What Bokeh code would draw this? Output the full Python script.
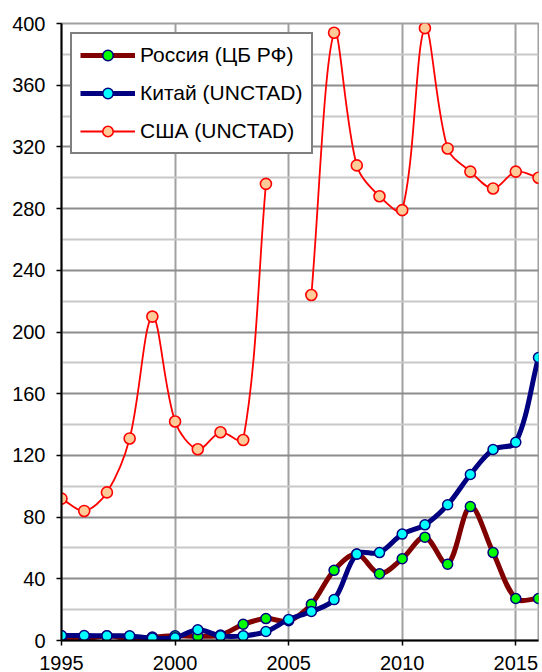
import math
from bokeh.plotting import figure
from bokeh.models import Range1d, Legend, LegendItem, FixedTicker, ColumnDataSource
from bokeh.embed import file_html
from bokeh.resources import INLINE

years = list(range(1995, 2017))
russia = [0.6, 1.0, 3.0, 1.3, 2.2, 3.0, 2.8, 3.5, 10.5, 14.2, 12.8, 23.5,
          45.5, 56.0, 43.3, 53.0, 67.0, 49.5, 86.8, 57.0, 27.2, 27.2]
china = [3.2, 3.2, 3.0, 3.0, 1.6, 1.8, 7.0, 3.0, 3.0, 5.8, 13.6, 18.8,
         26.5, 56.0, 57.0, 69.0, 75.0, 88.0, 107.6, 123.8, 128.5, 183.5]
usa = [92, 84, 96, 131, 210, 142, 124, 135, 130, 296, None, 224,
       394, 308, 288, 279, 397, 319, 304, 293, 304, 300]

series_names = ["Россия (ЦБ РФ)", "Китай (UNCTAD)", "США (UNCTAD)"]
y_ticks = list(range(0, 401, 40))
y_minor = list(range(20, 400, 40))
x_ticks = [1995, 2000, 2005, 2010, 2015]

FONT = "Liberation Sans"

W, H = 539, 672
BL, BR, BT, BB = 61, 1, 23, 32
X0, X1, Y0, Y1 = 1995, 2016, 0, 400
SX = (W - BL - BR) / (X1 - X0)
SY = (H - BT - BB) / (Y1 - Y0)


def bezier_source(xs, ys):
    runs, cur = [], []
    for x, y in zip(xs, ys):
        if y is None:
            if cur:
                runs.append(cur)
            cur = []
        else:
            cur.append((x, y))
    if cur:
        runs.append(cur)

    def dist(a, b):
        return math.hypot((a[0] - b[0]) * SX, (a[1] - b[1]) * SY)

    d = dict(x0=[], y0=[], x1=[], y1=[], cx0=[], cy0=[], cx1=[], cy1=[])
    for run in runs:
        n = len(run)
        for i in range(n - 1):
            p0 = run[i - 1] if i > 0 else run[i]
            p1 = run[i]
            p2 = run[i + 1]
            p3 = run[i + 2] if i + 2 < n else run[i + 1]
            d01, d12, d23 = dist(p0, p1), dist(p1, p2), dist(p2, p3)
            f1 = d12 / (d01 + d12) / 3.0 if (d01 + d12) > 0 else 0
            f2 = d12 / (d12 + d23) / 3.0 if (d12 + d23) > 0 else 0
            d["x0"].append(p1[0]); d["y0"].append(p1[1])
            d["x1"].append(p2[0]); d["y1"].append(p2[1])
            d["cx0"].append(p1[0] + (p2[0] - p0[0]) * f1)
            d["cy0"].append(p1[1] + (p2[1] - p0[1]) * f1)
            d["cx1"].append(p2[0] - (p3[0] - p1[0]) * f2)
            d["cy1"].append(p2[1] - (p3[1] - p1[1]) * f2)
    return ColumnDataSource(d)


p = figure(width=W, height=H, output_backend="svg", toolbar_location=None,
           x_range=Range1d(X0, X1), y_range=Range1d(Y0, Y1),
           min_border_left=BL, min_border_right=BR, min_border_top=BT,
           min_border_bottom=BB)
p.background_fill_color = "white"
p.border_fill_color = "white"
p.outline_line_color = "#a0a0a0"
p.outline_line_width = 2

# grids
p.ygrid.ticker = FixedTicker(ticks=y_ticks, minor_ticks=y_minor)
p.ygrid.grid_line_color = "#8c8c8c"
p.ygrid.grid_line_width = 2
p.ygrid.minor_grid_line_color = "#c8c8c8"
p.ygrid.minor_grid_line_width = 2
p.xgrid.ticker = FixedTicker(ticks=x_ticks)
p.xgrid.grid_line_color = "#a0a0a0"
p.xgrid.grid_line_width = 2

# axes
p.yaxis.ticker = FixedTicker(ticks=y_ticks)
p.xaxis.ticker = FixedTicker(ticks=x_ticks)
for ax in (p.xaxis[0], p.yaxis[0]):
    ax.axis_line_color = "black"
    ax.axis_line_width = 2
    ax.major_tick_line_color = "black"
    ax.major_tick_line_width = 1.5
    ax.major_tick_out = 5
    ax.major_tick_in = 0
    ax.minor_tick_line_color = None
    ax.major_label_text_font = FONT
    ax.major_label_text_font_size = "20px"
    ax.major_label_text_color = "black"
p.yaxis.major_label_standoff = 11
p.xaxis.major_label_standoff = 10

# USA
p.bezier(x0="x0", y0="y0", x1="x1", y1="y1", cx0="cx0", cy0="cy0",
         cx1="cx1", cy1="cy1", source=bezier_source(years, usa),
         line_color="#ff0000", line_width=1.8)
usa_pts = [(x, y) for x, y in zip(years, usa) if y is not None]
r_usa_pts = p.scatter([a for a, b in usa_pts], [b for a, b in usa_pts], size=11,
                      fill_color="#ffcc99", line_color="#ff0000", line_width=1.6)

# Russia
p.bezier(x0="x0", y0="y0", x1="x1", y1="y1", cx0="cx0", cy0="cy0",
         cx1="cx1", cy1="cy1", source=bezier_source(years, russia),
         line_color="#800000", line_width=5, line_cap="round")
r_ru_pts = p.scatter(years, russia, size=10, fill_color="#00ff00",
                     line_color="#000080", line_width=1.5)

# China
p.bezier(x0="x0", y0="y0", x1="x1", y1="y1", cx0="cx0", cy0="cy0",
         cx1="cx1", cy1="cy1", source=bezier_source(years, china),
         line_color="#000080", line_width=5, line_cap="round")
r_cn_pts = p.scatter(years, china, size=10, fill_color="#00ffff",
                     line_color="#000080", line_width=1.5)

# legend proxies
nan = float("nan")
l_ru = p.line([nan], [nan], line_color="#800000", line_width=5)
l_cn = p.line([nan], [nan], line_color="#000080", line_width=5)
l_us = p.line([nan], [nan], line_color="#ff0000", line_width=1.8)

legend = Legend(items=[
    LegendItem(label=series_names[0], renderers=[l_ru, r_ru_pts]),
    LegendItem(label=series_names[1], renderers=[l_cn, r_cn_pts]),
    LegendItem(label=series_names[2], renderers=[l_us, r_usa_pts]),
], location="top_left")
legend.margin = 9
legend.padding = 8
legend.spacing = 12
legend.glyph_width = 55
legend.glyph_height = 26
legend.label_height = 26
legend.label_standoff = 5
legend.label_text_font = FONT
legend.label_text_font_size = "21px"
legend.label_text_color = "black"
legend.border_line_color = "black"
legend.border_line_width = 2
legend.background_fill_color = "white"
legend.background_fill_alpha = 1.0
p.add_layout(legend)

open("out.html", "w").write(file_html(p, INLINE))
